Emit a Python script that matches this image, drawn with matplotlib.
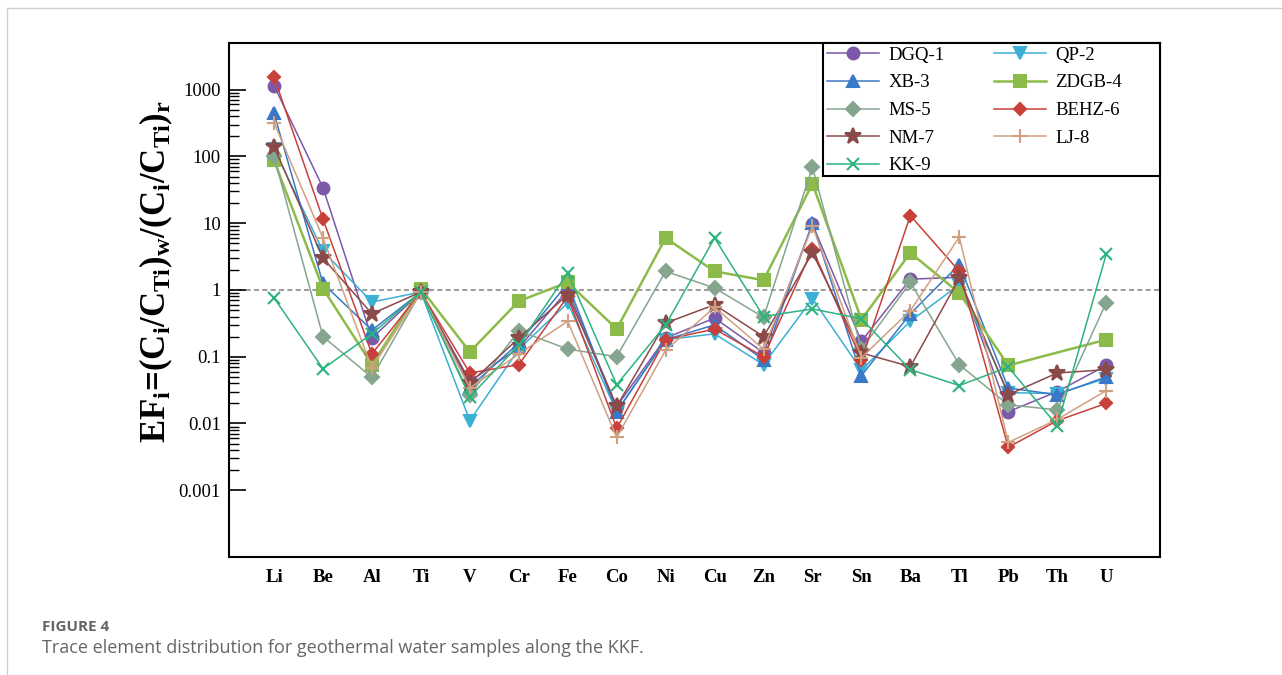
import matplotlib
matplotlib.use("Agg")
import matplotlib.pyplot as plt
from matplotlib.ticker import FixedLocator, NullFormatter, FixedFormatter
from matplotlib.lines import Line2D
from matplotlib.patches import Rectangle
import numpy as np

plt.rcParams['font.family'] = ['Liberation Serif', 'DejaVu Serif']
plt.rcParams['mathtext.fontset'] = 'custom'
plt.rcParams['mathtext.rm'] = 'Liberation Serif:bold'
plt.rcParams['mathtext.it'] = 'Liberation Serif:bold'
plt.rcParams['mathtext.bf'] = 'Liberation Serif:bold'
plt.rcParams['mathtext.default'] = 'bf'

elements = ["Li", "Be", "Al", "Ti", "V", "Cr", "Fe", "Co", "Ni", "Cu", "Zn", "Sr", "Sn", "Ba", "Tl", "Pb", "Th", "U"]

dgq_1  = [1150, 34, 0.19, 0.93, 0.043, 0.135, 1.0, 0.018, 0.19, 0.38, 0.115, 9.7, 0.17, 1.45, 1.55, 0.015, 0.030, 0.074]
qp_2   = [130, 3.8, 0.66, 0.93, 0.011, 0.13, 0.64, 0.015, 0.18, 0.22, 0.076, 0.74, 0.063, 0.34, 1.2, 0.029, 0.028, 0.047]
xb_3   = [440, 1.25, 0.25, 0.93, 0.035, 0.16, 1.25, 0.015, 0.18, 0.30, 0.09, 10, 0.052, 0.44, 2.4, 0.034, 0.027, 0.050]
zdgb_4 = [87, 1.05, 0.076, 1.05, 0.118, 0.68, 1.3, 0.26, 6.0, 1.9, 1.4, 39, 0.36, 3.6, 0.9, 0.074, None, 0.18]
ms_5   = [100, 0.2, 0.049, 0.93, 0.027, 0.245, 0.13, 0.10, 1.9, 1.07, 0.39, 69, 0.13, 1.3, 0.076, 0.019, 0.016, 0.64]
behz_6 = [1550, 11.5, 0.11, 0.93, 0.057, 0.076, 0.8, 0.0085, 0.18, 0.26, 0.10, 4.1, 0.09, 13, 1.9, 0.0044, 0.011, 0.020]
nm_7   = [140, 3.0, 0.44, 0.93, 0.04, 0.19, 0.85, 0.018, 0.32, 0.6, 0.2, 3.6, 0.114, 0.071, 1.5, 0.027, 0.057, 0.064]
lj_8   = [320, 6.0, 0.068, 0.93, 0.034, 0.11, 0.34, 0.0062, 0.125, 0.55, 0.13, 9.0, 0.097, 0.49, 6.2, 0.0052, 0.0115, 0.031]
kk_9   = [0.76, 0.066, 0.22, 0.93, 0.025, 0.15, 1.8, 0.038, 0.30, 6.0, 0.40, 0.52, 0.37, 0.064, 0.037, 0.070, 0.0093, 3.4]

series_names = ["DGQ-1", "QP-2", "XB-3", "ZDGB-4", "MS-5", "BEHZ-6", "NM-7", "LJ-8", "KK-9"]
series_vals = [dgq_1, qp_2, xb_3, zdgb_4, ms_5, behz_6, nm_7, lj_8, kk_9]
colors = ['#7B58A8', '#3BAFD4', '#3A78C8', '#8DBB4A', '#86A58F', '#C8403A', '#8B4A4A', '#D0A080', '#2DB37E']
markers = ['o', 'v', '^', 's', 'D', 'D', '*', '+', 'x']
msizes = [8.5, 8.5, 8.5, 8, 7.5, 6, 12, 9.5, 8.5]
lwidths = [1.1, 1.1, 1.1, 1.8, 1.1, 1.1, 1.1, 1.1, 1.1]

fig = plt.figure(figsize=(12.82, 6.75), dpi=100)
ax = fig.add_axes([229/1282, 1-557/675, (1160-229)/1282, (557-43)/675])

x = np.arange(len(elements))
handles = []
for name, vals, c, m, ms, lw in zip(series_names, series_vals, colors, markers, msizes, lwidths):
    y = np.array([np.nan if v is None else v for v in vals], dtype=float)
    mask = ~np.isnan(y)
    ax.plot(x[mask], y[mask], color=c, lw=lw, marker=m, ms=ms, mew=1.5, zorder=3)
    handles.append(Line2D([], [], color=c, lw=lw, marker=m, ms=ms, mew=1.5, label=name))

ax.axhline(1, color='#8a8a8a', lw=1.2, ls=(0, (3, 2)), zorder=1)

ax.set_yscale('log')
ax.set_ylim(1e-4, 5000)
ax.set_xlim(-0.92, 18.1)

ax.yaxis.set_major_locator(FixedLocator([1e-3, 1e-2, 1e-1, 1, 10, 100, 1000]))
ax.yaxis.set_major_formatter(FixedFormatter(["0.001", "0.01", "0.1", "1", "10", "100", "1000"]))
minors = [m * 10.0**k for k in range(-3, 3) for m in range(2, 10)]
ax.yaxis.set_minor_locator(FixedLocator(minors))
ax.yaxis.set_minor_formatter(NullFormatter())
ax.tick_params(axis='y', which='major', direction='in', length=12, width=1.2, labelsize=13.5, pad=6)
ax.tick_params(axis='y', which='minor', direction='in', length=7, width=1.0)

ax.set_xticks(x)
ax.set_xticklabels(elements, fontweight='bold', fontsize=13.5)
ax.tick_params(axis='x', length=0, pad=9)

for sp in ax.spines.values():
    sp.set_linewidth(1.5)

ax.set_ylabel(r'EF$_i$=(C$_i$/C$_{Ti}$)$_w$/(C$_i$/C$_{Ti}$)$_r$',
              fontweight='bold', fontsize=25)
ax.yaxis.set_label_coords(-0.058, 0.555)

# legend (frame drawn separately to match the reference box)
x0 = (823-229)/931
y0 = (557-176)/514
ax.add_patch(Rectangle((x0, y0), 1-x0, 1-y0, transform=ax.transAxes, fill=True,
                       facecolor='white', edgecolor='black', lw=1.5, zorder=5, clip_on=False))
order = [0, 2, 4, 6, 8, 1, 3, 5, 7]
leg = ax.legend([handles[i] for i in order], [series_names[i] for i in order], ncol=2,
                loc='upper left', bbox_to_anchor=(x0, 1.0), borderaxespad=0.0,
                prop={'size': 13.5}, frameon=False,
                handlelength=2.8, columnspacing=2.6, labelspacing=0.56,
                handletextpad=0.5, borderpad=0.2)
leg.set_zorder(6)

# page decorations
fig.add_artist(Line2D([7/1282, 1], [1-8/675, 1-8/675], color='#d0d0d0', lw=1))
fig.add_artist(Line2D([7/1282, 7/1282], [0, 1-8/675], color='#d0d0d0', lw=1))

fig.text(42/1282, 1-627/675, "FIGURE 4", fontfamily='Open Sans', fontweight='bold', fontsize=11,
         color='#666666', va='center')
fig.text(42/1282, 1-648/675, "Trace element distribution for geothermal water samples along the KKF.",
         fontfamily='Open Sans', fontsize=13, color='#666666', va='center')

fig.savefig('out.png', dpi=100)
